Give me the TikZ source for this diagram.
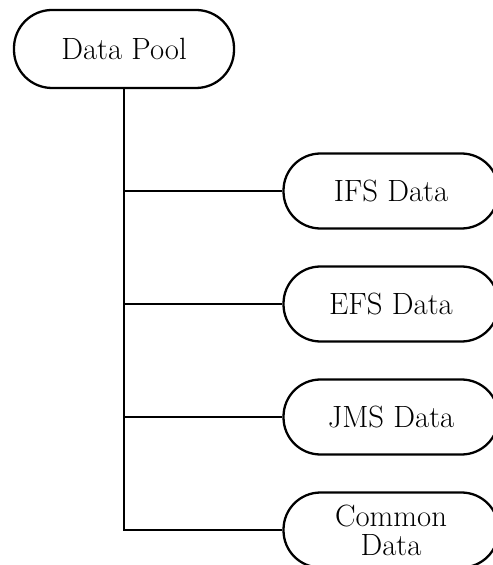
\documentclass[tikz,border=0pt]{standalone}

\begin{document}
\begin{tikzpicture}[line width=1.3pt,font=\fontsize{17.5pt}{16.5pt}\selectfont,
  pool/.style={draw,rectangle,rounded corners=0.76cm,minimum width=4.4cm,minimum height=1.56cm,inner sep=0pt},
  store/.style={draw,rectangle,rounded corners=0.74cm,minimum width=4.3cm,minimum height=1.5cm,inner sep=0pt,align=center}]

\useasboundingbox (0,0) rectangle (9.84,-11.3);

\node[pool] (P) at (2.48,-0.98) {Data Pool};

\node[store] (I) at (7.82,-3.82) {IFS Data};
\node[store] (E) at (7.82,-6.08) {EFS Data};
\node[store] (J) at (7.82,-8.34) {JMS Data};
\node[store] (C) at (7.82,-10.6) {Common\\Data};

\draw (P.south) |- (I.west);
\draw (P.south) |- (E.west);
\draw (P.south) |- (J.west);
\draw (P.south) |- (C.west);

\end{tikzpicture}
\end{document}
